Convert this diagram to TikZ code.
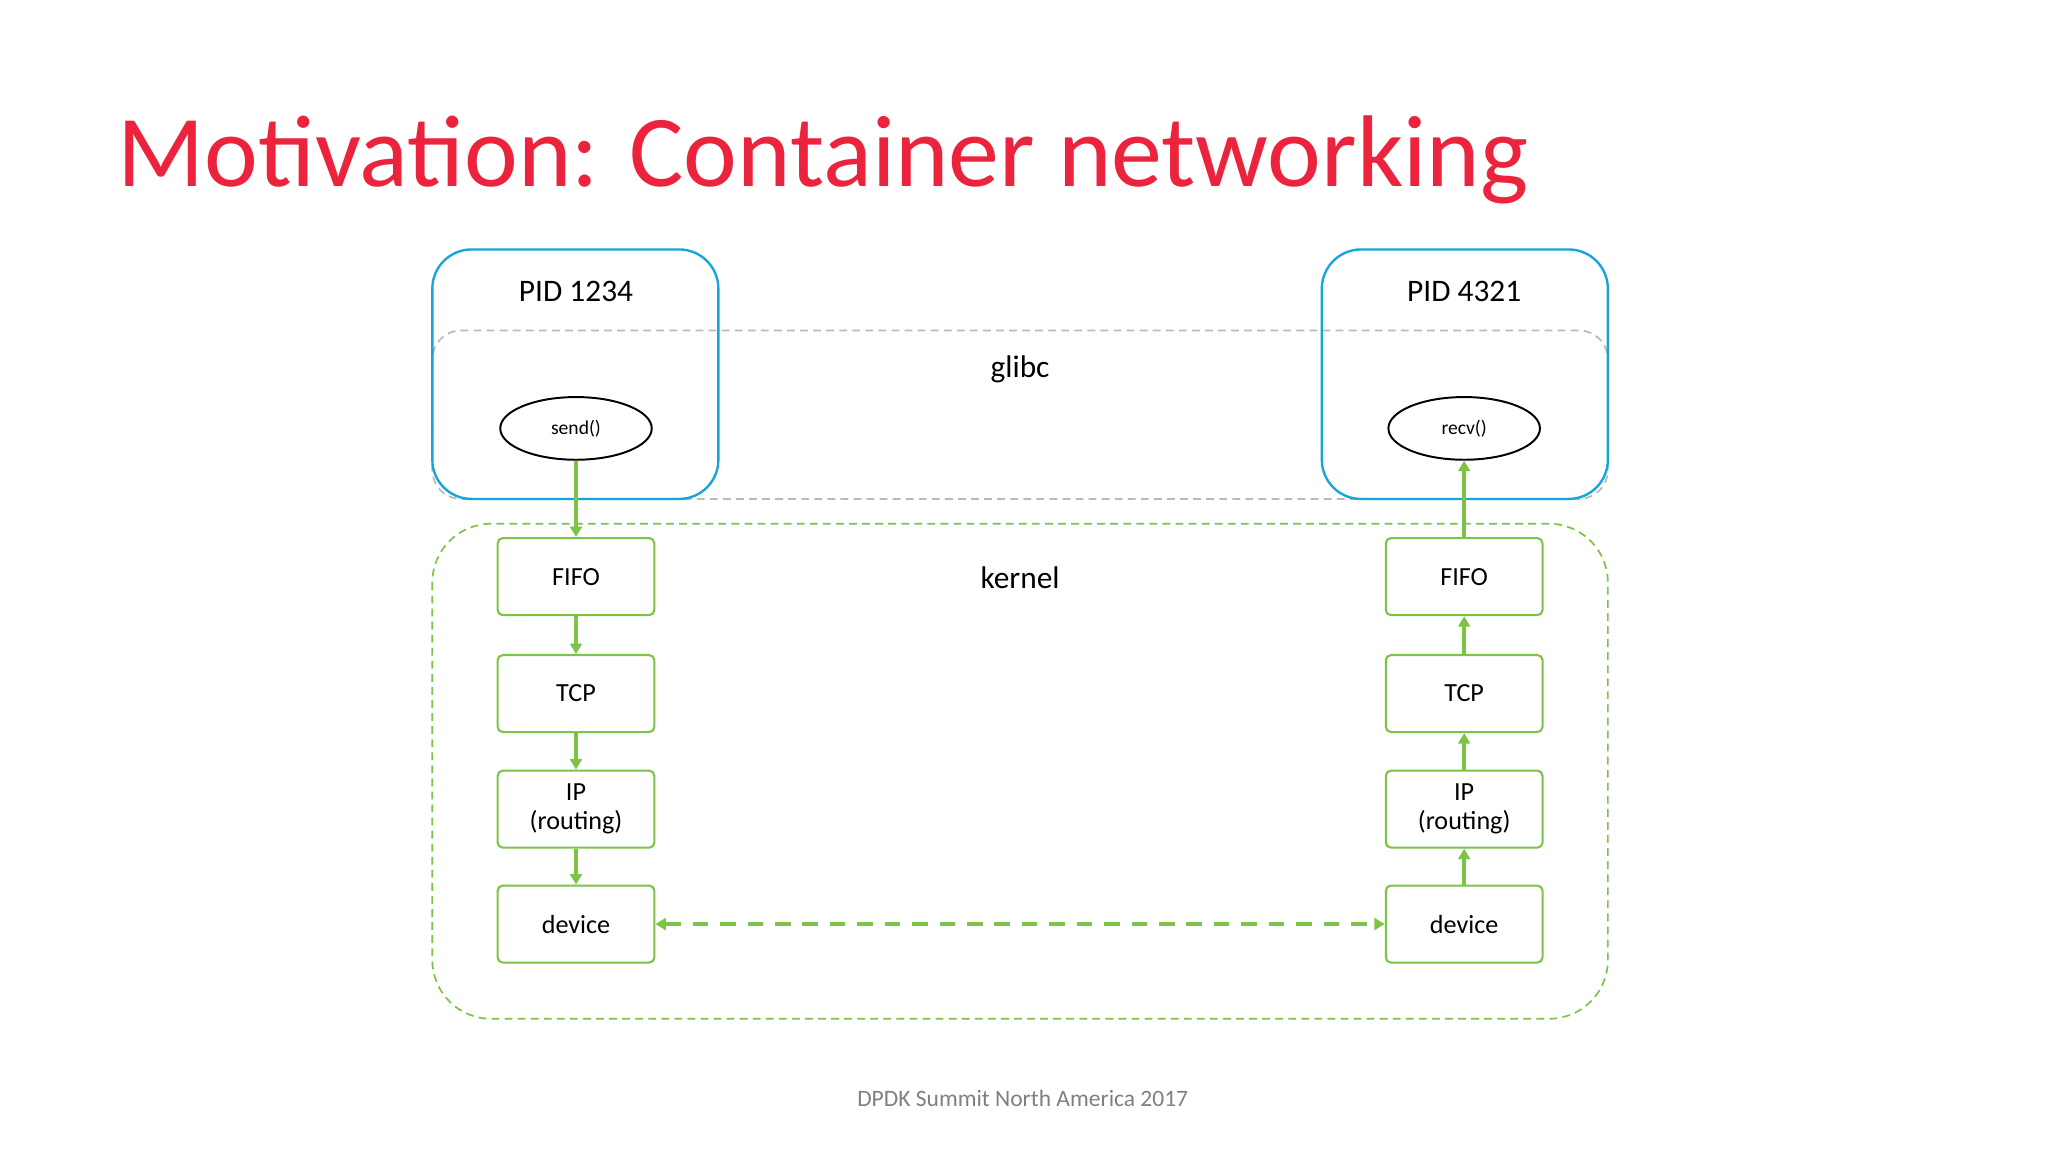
\documentclass[tikz,border=0pt]{standalone}
\usepackage{fontspec}
\setmainfont{Carlito}
\usetikzlibrary{arrows.meta}
\definecolor{ttl}{RGB}{235,35,60}
\definecolor{pid}{RGB}{20,165,220}
\definecolor{grn}{RGB}{125,195,70}
\definecolor{gl}{RGB}{185,185,185}
\tikzset{
 pidbox/.style={draw=pid,line width=1.8pt,rounded corners=30pt},
 layer/.style={draw=grn,line width=1.6pt,minimum width=120pt,minimum height=59pt,rounded corners=4pt,font=\fontsize{20}{24}\selectfont,align=center},
 fn/.style={draw=black,line width=1.5pt,ellipse,minimum width=116pt,minimum height=48pt,inner sep=0pt,font=\fontsize{15}{18}\selectfont},
 arr/.style={draw=grn,line width=3pt,-{Triangle[length=8pt,width=9pt]}},
 lbl/.style={font=\fontsize{24}{28}\selectfont}
}
\usetikzlibrary{shapes.geometric}
\begin{document}
\begin{tikzpicture}[x=1pt,y=-1pt]
\useasboundingbox (0,0) rectangle (1568,882);
\fill[white] (0,0) rectangle (1568,882);
\node[anchor=base west,text=ttl,inner sep=0pt,font=\fontsize{78}{90}\selectfont] (title) at (90,143) {Motivation: Container networking};
% glibc and kernel
\draw[gl,line width=1.3pt,dash pattern=on 6pt off 4pt,rounded corners=22pt] (331,253) rectangle (1231,382);
\node[lbl] (glibc) at (781,283) {glibc};
\draw[grn,line width=1.3pt,dash pattern=on 6pt off 4pt,rounded corners=45pt] (331,401) rectangle (1231,780);
\node[lbl] (kernel) at (781,442) {kernel};
% pid boxes
\draw[pidbox] (331,191) rectangle (550,382);
\draw[pidbox] (1012,191) rectangle (1231,382);
\node[lbl] (p1) at (441,223) {PID 1234};
\node[lbl] (p2) at (1121,223) {PID 4321};
\node[fn] (send) at (441,328) {send()};
\node[fn] (recv) at (1121,328) {recv()};
% layers
\foreach \s/\x in {L/441,R/1121}{
 \node[layer] (fifo\s) at (\x,441.5) {FIFO};
 \node[layer] (tcp\s) at (\x,531) {TCP};
 \node[layer] (ip\s) at (\x,619.5) {IP\\[-2pt](routing)};
 \node[layer] (dev\s) at (\x,707.5) {device};
}
\draw[arr] (send) -- (fifoL);
\draw[arr] (fifoL) -- (tcpL);
\draw[arr] (tcpL) -- (ipL);
\draw[arr] (ipL) -- (devL);
\draw[arr] (devR) -- (ipR);
\draw[arr] (ipR) -- (tcpR);
\draw[arr] (tcpR) -- (fifoR);
\draw[arr] (fifoR) -- (recv);
\draw[grn,line width=3pt,dash pattern=on 12pt off 9pt,{Triangle[length=8pt,width=9pt]}-{Triangle[length=8pt,width=9pt]}] (devL) -- (devR);
\node[text=gray,font=\fontsize{18}{22}\selectfont] (foot) at (783,841) {DPDK Summit North America 2017};
\end{tikzpicture}
\end{document}
